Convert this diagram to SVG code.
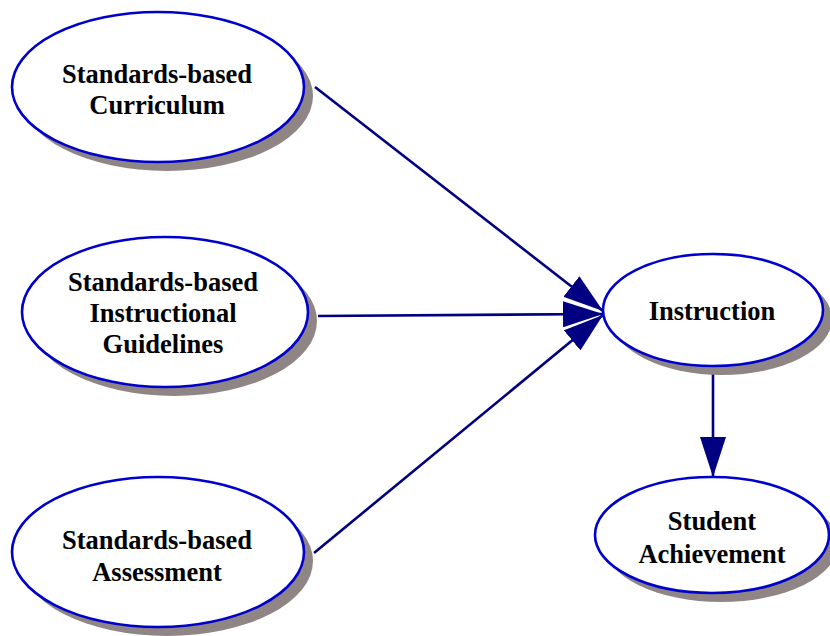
<svg xmlns="http://www.w3.org/2000/svg" width="830" height="636" viewBox="0 0 830 636">
<defs>
<style>
.shadow{fill:#8f8585;stroke:none}
.node{fill:#ffffff;stroke:#0000cc;stroke-width:2.6}
.label{font-family:"Liberation Serif","Times New Roman",serif;font-weight:bold;font-size:26.5px;fill:#000000;text-anchor:middle}
.edge{stroke:#000080;stroke-width:2.6;fill:none}
</style>
<marker id="arrow" markerUnits="userSpaceOnUse" viewBox="0 0 40 26" refX="40" refY="13" markerWidth="40" markerHeight="26" orient="auto">
<path d="M0,0 L40,13 L0,26 Z" fill="#000080"/>
</marker>
</defs>
<rect width="830" height="636" fill="#ffffff"/>
<g id="connectors">
<line class="edge" x1="315" y1="87" x2="603" y2="311" marker-end="url(#arrow)"/>
<line class="edge" x1="318" y1="316" x2="603" y2="314" marker-end="url(#arrow)"/>
<line class="edge" x1="314" y1="553" x2="603" y2="315" marker-end="url(#arrow)"/>
<line class="edge" x1="713" y1="374" x2="713" y2="477" marker-end="url(#arrow)"/>
</g>
<g id="node-curriculum">
<ellipse class="shadow" cx="167" cy="96" rx="146" ry="75"/>
<ellipse class="node" cx="158" cy="87" rx="146" ry="75"/>
<text class="label" x="157" y="83">Standards-based</text>
<text class="label" x="157" y="114">Curriculum</text>
</g>
<g id="node-guidelines">
<ellipse class="shadow" cx="174" cy="321" rx="143" ry="75"/>
<ellipse class="node" cx="165" cy="312" rx="143" ry="75"/>
<text class="label" x="163" y="291">Standards-based</text>
<text class="label" x="163" y="322">Instructional</text>
<text class="label" x="163" y="353">Guidelines</text>
</g>
<g id="node-assessment">
<ellipse class="shadow" cx="167" cy="561" rx="146" ry="75"/>
<ellipse class="node" cx="158" cy="552" rx="146" ry="75"/>
<text class="label" x="157" y="549">Standards-based</text>
<text class="label" x="157" y="581">Assessment</text>
</g>
<g id="node-instruction">
<ellipse class="shadow" cx="722" cy="319" rx="110" ry="56"/>
<ellipse class="node" cx="713" cy="310" rx="110" ry="56"/>
<text class="label" x="712" y="320">Instruction</text>
</g>
<g id="node-achievement">
<ellipse class="shadow" cx="721" cy="544" rx="117" ry="58"/>
<ellipse class="node" cx="712" cy="535" rx="117" ry="58"/>
<text class="label" x="712" y="530">Student</text>
<text class="label" x="712" y="563">Achievement</text>
</g>
</svg>
